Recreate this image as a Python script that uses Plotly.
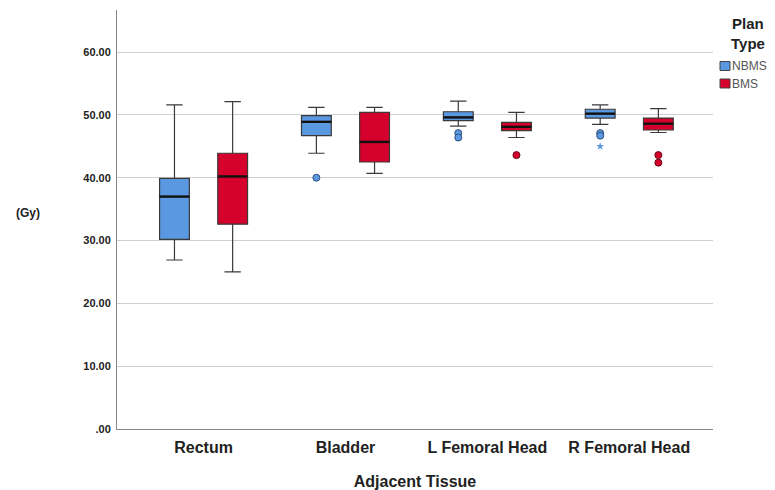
import plotly.graph_objects as go

categories = ["Rectum", "Bladder", "L Femoral Head", "R Femoral Head"]
groups = ["NBMS", "BMS"]
colors = {"NBMS": "#5a98e2", "BMS": "#d6002c"}
outline = {"NBMS": "#2f4f7a", "BMS": "#6a0015"}

# box statistics per plan type (Gy)
nbms_low = [26.9, 43.9, 48.2, 48.5]
nbms_q1 = [30.2, 46.7, 49.1, 49.5]
nbms_med = [37.0, 48.9, 49.6, 50.2]
nbms_q3 = [39.9, 49.9, 50.5, 50.9]
nbms_high = [51.6, 51.2, 52.2, 51.6]

bms_low = [25.0, 40.7, 46.4, 47.2]
bms_q1 = [32.6, 42.5, 47.5, 47.6]
bms_med = [40.2, 45.7, 48.1, 48.6]
bms_q3 = [43.9, 50.4, 48.8, 49.5]
bms_high = [52.1, 51.2, 50.4, 51.0]

# outliers: (category index, value)
nbms_out_cat = [1, 2, 2, 3, 3]
nbms_out_val = [40.0, 47.1, 46.4, 47.1, 46.7]
nbms_extreme_cat = [3]
nbms_extreme_val = [45.0]
bms_out_cat = [2, 3, 3]
bms_out_val = [43.6, 43.6, 42.4]

yticks = [0, 10, 20, 30, 40, 50, 60]

stats = {
    "NBMS": (nbms_low, nbms_q1, nbms_med, nbms_q3, nbms_high),
    "BMS": (bms_low, bms_q1, bms_med, bms_q3, bms_high),
}
outs = {"NBMS": (nbms_out_cat, nbms_out_val), "BMS": (bms_out_cat, bms_out_val)}

offset = {"NBMS": -0.205, "BMS": 0.205}
bw = 0.21

# figure geometry (page has an 8px body margin)
W, H = 767, 482
ML, MR, MT, MB = 109, 62, 2, 61
PW, PH = W - ML - MR, H - MT - MB


def px(xp):  # page x pixel -> paper coordinate
    return (xp - 8 - ML) / PW


def py(yp):  # page y pixel -> paper coordinate
    return (H - MB - (yp - 8)) / PH


fig = go.Figure()
for g in groups:
    low, q1, med, q3, high = stats[g]
    xs = [i + offset[g] for i in range(len(categories))]
    fig.add_trace(go.Box(
        x=xs, q1=q1, median=med, q3=q3, lowerfence=low, upperfence=high,
        width=bw, fillcolor=colors[g], line=dict(color="#3a3a3a", width=1.2),
        whiskerwidth=0.55, boxpoints=False, showlegend=False, name=g,
    ))
    # thicker median lines
    mx, my = [], []
    for x, m in zip(xs, med):
        mx += [x - bw / 2, x + bw / 2, None]
        my += [m, m, None]
    fig.add_trace(go.Scatter(x=mx, y=my, mode="lines", line=dict(color="#111", width=2.4),
                             showlegend=False, hoverinfo="skip"))
    oc, ov = outs[g]
    fig.add_trace(go.Scatter(
        x=[c + offset[g] for c in oc], y=ov, mode="markers",
        marker=dict(symbol="circle", size=7, color=colors[g], line=dict(color=outline[g], width=1)),
        showlegend=False,
    ))

fig.add_trace(go.Scatter(
    x=[c + offset["NBMS"] for c in nbms_extreme_cat], y=nbms_extreme_val, mode="markers",
    marker=dict(symbol="star", size=6, color=colors["NBMS"]), showlegend=False,
))

# manual legend
annotations = [
    dict(text="<b>(Gy)</b>", x=px(28), y=py(213), xref="paper", yref="paper",
         xanchor="center", yanchor="middle", showarrow=False, font=dict(size=12, color="#222")),
    dict(text="<b>Plan<br>Type</b>", x=px(748), y=py(33), xref="paper", yref="paper",
         xanchor="center", yanchor="middle", showarrow=False, font=dict(size=15, color="#222")),
]
shapes = []
for k, g in enumerate(groups):
    yc = 66 + 17.5 * k
    shapes.append(dict(type="rect", xref="paper", yref="paper",
                       x0=px(720), x1=px(730), y0=py(yc - 4.5), y1=py(yc + 4.5),
                       fillcolor=colors[g], line=dict(color="#444", width=1)))
    annotations.append(dict(text=g, x=px(730), y=py(yc), xref="paper", yref="paper",
                            xanchor="left", yanchor="middle", showarrow=False,
                            font=dict(size=12, color="#555")))

fig.update_layout(
    width=W, height=H,
    margin=dict(l=ML, r=MR, t=MT, b=MB, autoexpand=False),
    plot_bgcolor="white", paper_bgcolor="white",
    font=dict(family="Arial, Liberation Sans, sans-serif", color="#222"),
    showlegend=False,
    xaxis=dict(
        range=[-0.61, 3.59], tickvals=list(range(len(categories))),
        ticktext=["<b>%s</b>" % c for c in categories],
        tickfont=dict(size=16, color="#222"), automargin=False,
        showgrid=False, zeroline=False, showline=True, linecolor="#888", linewidth=1,
        ticks="", ticklabelstandoff=4,
        title=dict(text="<b>Adjacent Tissue</b>", font=dict(size=16, color="#222"), standoff=20),
    ),
    yaxis=dict(
        range=[0, 66.7], tickvals=yticks, automargin=False,
        ticktext=["<b>%s</b>" % (("%.2f" % v).lstrip("0") if v < 1 else "%.2f" % v) for v in yticks],
        tickfont=dict(size=11, color="#222"),
        showgrid=True, gridcolor="#d0d0d0", gridwidth=1, zeroline=False,
        showline=True, linecolor="#888", linewidth=1, ticks="", ticklabelstandoff=3,
    ),
    annotations=annotations,
    shapes=shapes,
)

fig.write_html("out.html")
